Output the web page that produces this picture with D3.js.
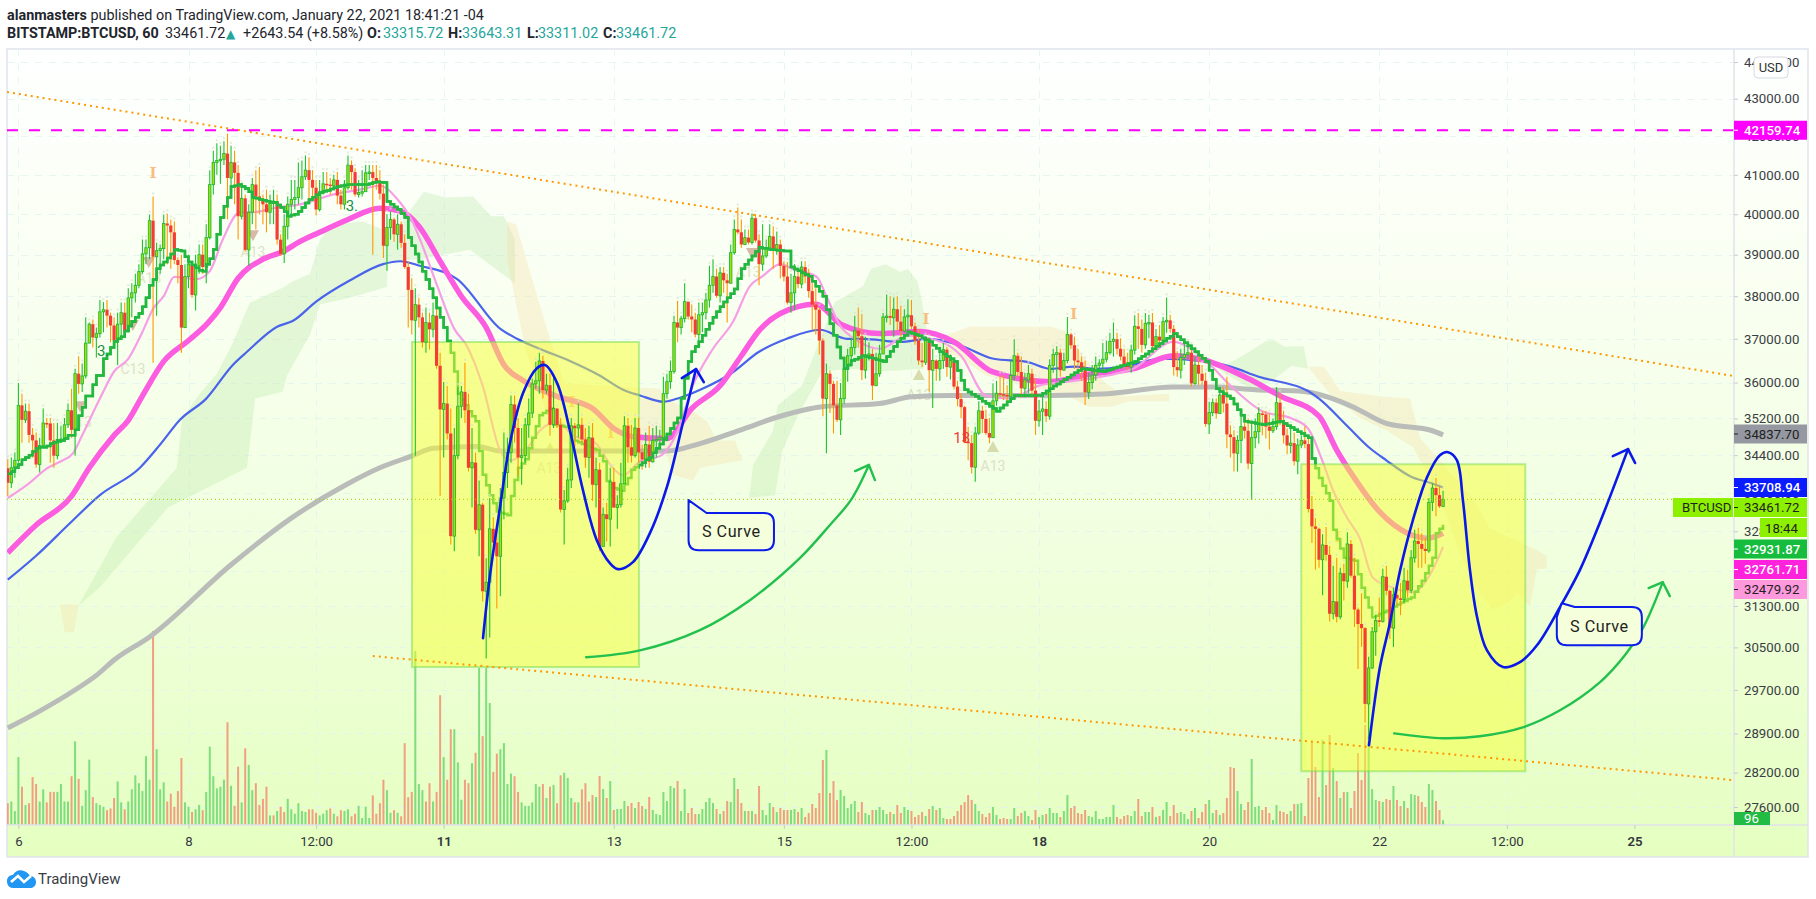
<!DOCTYPE html>
<html><head><meta charset="utf-8">
<script src="https://cdn.jsdelivr.net/npm/d3@7"></script>
<style>
html,body{margin:0;padding:0;background:#fff;width:1816px;height:899px;overflow:hidden}
svg{display:block;font-family:Roboto,sans-serif}
</style></head><body><svg id="c" width="1816" height="899"></svg>
<script>
// hour 0 = Jan 6 00:00, first bar is hour -3
const firstHour=-3, firstOpen=34120;
const closes=[
33810,34130,34290,35490,35170,35360,34840,34720,34200,34610,
35100,35090,34720,34390,34740,34750,35060,35380,34950,36200,
35970,36150,36900,37340,37030,37120,37630,37680,37540,37310,
36960,37340,37610,37170,37960,38080,38260,38590,39020,39170,
39840,38950,39100,39150,39770,39720,39550,38870,38750,37260,
38470,38770,38030,38730,39000,38700,39420,40750,41320,41370,
41400,41550,40920,41320,41050,39950,40400,39120,40050,40750,
40450,40370,40250,40050,40270,40320,39370,39020,39700,40250,
40370,40420,40670,40950,41120,40870,40670,40120,40550,40770,
40750,40720,40870,40470,40250,40670,41250,41070,40500,40550,
40570,41050,41070,40920,40820,40520,39220,39670,39870,39500,
39750,39290,38700,38150,37430,37800,37500,36920,37380,37220,
37540,36380,35400,35530,34870,32700,34390,35470,35790,35380,
34130,34240,32830,33350,31590,31770,32850,32570,32290,33490,
34030,34460,35510,34990,34350,34390,35060,35320,35970,36040,
36490,35830,35940,35060,35420,35060,33250,33430,33870,35040,
34990,35060,34740,34350,34780,33770,34090,32490,33150,33050,
33830,33290,33350,33790,35040,34570,34390,34990,34460,34310,
34630,34260,34720,34740,34780,35750,36020,36250,37380,37260,
37470,37870,37520,37450,37100,37560,37610,37910,38260,38470,
38010,38560,38380,38310,39050,39620,39550,39250,39420,39300,
39900,39350,38770,38970,39150,39450,39120,39250,38730,38470,
37850,38080,38470,38290,38700,38470,38120,37800,37680,36960,
35640,36200,35970,35490,35170,35640,36310,36610,36800,37190,
37060,36280,36610,36650,35930,36200,36650,37510,37530,37490,
37690,37400,37180,37510,37550,37290,36960,36500,36460,36960,
36280,36500,36310,36500,36750,36350,36500,35910,35630,35450,
34690,34660,34140,34880,35370,35190,34880,34780,35590,35760,
35740,35720,35690,36160,36610,36240,35870,36060,36200,35820,
35150,35360,35410,35250,36390,36640,36680,36280,36500,37100,
36850,36500,36460,36280,35780,36000,36170,36390,36440,36530,
36680,36940,36990,36770,36590,36390,36350,36740,37290,37230,
36860,37360,37380,36830,37050,36960,37400,37430,37230,36350,
36280,36570,36640,36680,35980,36400,36200,36040,35080,35330,
35550,35310,35720,35530,34850,34790,34440,34720,35020,34930,
34220,34780,34910,35310,35290,35020,34930,35020,35550,35130,
34830,34610,34660,34270,34620,34720,34640,33260,32900,32850,
32220,32520,32320,31150,31390,31090,31950,31790,32540,31900,
31230,30950,30870,29440,30110,30800,31020,31000,31880,31600,
30870,31520,31450,31430,31800,31610,32260,32600,32540,32440,
32400,33400,33700,33550,33315.72,33461.72];
const highs=[
34310,34350,34460,35990,35750,35530,35530,34990,34890,34780,
35420,35210,35210,35100,35100,35040,35210,35530,35860,36310,
36600,36430,37500,37380,37450,37260,37910,37860,37910,37610,
37500,37610,37850,37850,38190,38310,38540,38770,39370,39370,
39990,40450,39290,39250,39990,40020,39870,39820,38940,39000,
38770,39000,38770,39000,39250,39250,39750,41120,41620,41820,
41750,41870,42070,41750,41620,41250,40750,40500,40250,40920,
41120,41200,40500,40620,40500,40620,40500,39500,40000,40450,
40870,40870,41320,41370,41500,41450,41120,40870,40870,41070,
41070,40920,41000,41070,40620,40870,41500,41370,41170,40870,
41120,41250,41250,41250,41250,41120,40750,40000,40070,39920,
40000,39820,39500,38840,38430,38190,37960,37610,37730,37610,
37850,37730,36680,36010,35920,35420,34990,35900,35920,36450,
35750,34990,34460,33860,33390,32250,33490,33090,32890,33700,
34890,34780,35710,35710,35210,34990,35210,35640,36090,36470,
36680,36610,36200,36200,36200,35420,35210,33660,34130,35210,
35100,35530,35210,34990,35040,35100,34350,34240,33290,33390,
34130,34130,33550,34240,35250,35210,35060,35210,35210,34630,
34890,35040,34990,35040,34950,36130,36200,36500,37540,37890,
37540,38310,37850,37800,37610,37850,37850,38080,38730,38890,
38660,38700,38700,38540,39250,39870,40170,39870,39620,39620,
40020,40000,39500,39750,39370,39750,39700,39570,39370,38840,
38820,38540,38770,38660,38840,38840,38660,38310,38190,37730,
37010,36430,36270,36040,36040,35990,36540,36770,37010,37540,
37730,37580,37050,36920,36770,36680,36860,37600,38040,38000,
37970,38000,37780,37690,37930,37910,37380,37230,36900,37050,
37010,36770,36530,36770,36900,36810,36640,36400,36040,35760,
35480,35020,34840,35020,35580,35480,35390,35210,35980,36040,
36160,36160,35940,36500,36990,36680,36590,36220,36400,36310,
36090,35610,35670,35580,36530,36770,36830,36770,36680,37510,
37140,37050,36770,36590,36500,36220,36400,36590,36530,36900,
36960,37140,37380,37140,37010,36770,36680,36860,37550,37600,
37450,37600,37560,37600,37230,37320,37510,37970,37560,37320,
36710,36770,36900,36900,36830,36590,36590,36400,36220,35570,
35640,35640,35900,35900,36130,35050,34940,34830,35250,35200,
35200,35100,35200,35450,35370,35370,35310,35200,35900,35750,
35370,34980,35050,34890,34760,34830,35030,34760,33530,33070,
32870,32740,32890,32500,32100,32260,32060,32140,32780,32620,
32260,31270,31550,30890,30320,30890,31120,31470,32040,32100,
31620,31660,31660,31760,32060,32020,32420,32830,32870,32760,
32660,33490,33800,33910,33740,33643.31];
const lows=[
33530,33700,33920,34240,34670,35100,34670,34350,34130,34030,
34570,34990,34240,34130,34310,34670,34740,34990,34780,34390,
35750,35790,36090,36920,36800,36570,37030,37150,37260,36920,
36800,36400,37030,37150,37150,37500,37850,38190,38540,38770,
38890,36450,37540,38540,38890,38770,38660,38770,38310,36680,
37260,38190,37960,37660,38540,38540,38310,39370,40500,41000,
40770,41250,39870,40500,40250,39370,39870,39070,38730,39750,
39620,40000,39750,39550,39750,39750,39250,38970,38800,39370,
40000,40120,40250,40370,40870,40370,40370,39970,40070,40500,
40570,40500,40620,40250,40120,40120,40620,40620,40450,40420,
40450,40620,40870,39000,40620,40370,38920,38610,39370,39320,
39120,39170,38660,37260,37100,34390,37260,36800,36680,36750,
37030,36310,33530,34350,34740,32530,32390,34310,35210,35100,
34050,33290,32750,32290,31390,30290,30690,32490,31250,31490,
33050,33700,34240,34670,33960,33770,34240,34780,35210,35860,
35750,35640,35750,34820,34990,34990,33190,32530,33390,33700,
34570,34780,34670,34130,33920,33430,33290,32390,32490,32590,
32490,33290,32850,33290,33810,34240,34240,34350,34240,34090,
34130,34130,34240,34350,34570,34780,35640,35860,36200,36920,
37100,37380,37450,37150,37030,36800,37150,37450,37730,38080,
37960,37850,38080,37380,38310,39000,39500,39170,39250,39250,
39250,39300,38260,38610,38920,39120,38660,39000,38430,38350,
37800,37610,37680,38190,38190,38310,37960,37210,37100,36640,
35250,34440,35320,34870,35120,34840,35530,36020,36450,36640,
36800,36060,36090,36500,35610,36170,36130,36680,37380,37320,
37050,37200,37050,37140,37140,37230,36860,36400,36350,36400,
35800,35430,36040,36040,36310,36130,36070,35850,35470,35210,
34660,34290,34010,33830,34840,34880,34840,34660,34800,35480,
35670,35610,35480,35670,36040,36130,35670,35670,35760,35670,
34840,35020,34840,35120,35170,36220,36040,36130,36280,36440,
36770,36310,36220,36040,35500,35630,35850,36040,36220,36220,
36460,36640,36590,36640,36500,36310,36280,36220,36640,36770,
36680,36770,37010,36770,36810,36860,36960,37140,37140,36160,
36130,36090,36400,36530,35910,35950,35950,35950,35020,34860,
35250,35200,35310,35330,34550,34350,34050,34050,34230,34760,
34100,33450,34550,34650,34830,34760,34520,34880,34950,35050,
34650,34420,34440,34180,33990,34550,34550,33190,32560,32020,
32060,31510,32200,31000,31040,30980,31040,31410,31660,31860,
30890,30090,30510,29100,28800,30090,30340,30890,30980,31510,
30660,30510,31310,31120,31370,31470,31550,32160,32060,32060,
32140,32360,33220,33110,33280,33311.02];
// signed volume: positive = up bar, negative = down bar
const volumes=[
-436,470,279,1359,-766,401,-436,-958,-819,470,
714,-453,-662,-662,662,819,470,470,-976,1672,
-923,383,697,1307,-557,436,401,366,-296,-331,
-540,871,453,-314,470,714,993,836,679,1376,
906,-3880,1516,714,854,-470,-627,-366,-679,-1341,
453,366,-261,314,401,-296,662,1568,976,732,
766,906,-2056,784,-383,-1167,453,-1533,1202,697,
-836,-401,-523,-766,192,-192,279,-366,-261,523,
314,226,436,279,261,-314,-314,-244,192,226,
296,-331,226,-174,-296,279,314,-174,-226,383,
139,366,139,-592,-226,-436,-906,697,244,-296,
244,-174,-1637,-557,-662,3480,819,697,-470,-836,
470,-662,-2596,1359,-906,-1916,1916,1254,505,-906,
-836,1237,-1446,3140,-1777,3140,2440,-1063,-1428,1516,
1637,819,1028,-976,-662,453,383,383,453,819,
766,-819,540,-766,801,-436,-993,1045,941,540,
-453,453,-714,-836,-470,-600,560,-980,720,-540,
880,-300,320,320,480,-380,-440,340,-460,-380,
320,-560,300,220,200,660,480,780,740,-880,
280,720,-240,-340,-220,220,320,460,540,440,
-320,220,-280,-480,460,940,-720,-440,280,-280,
280,-220,-780,300,200,440,-360,260,-340,-300,
-300,300,320,-260,340,-160,-240,-420,-340,-640,
-1300,1500,-640,-880,-500,700,580,340,420,480,
-260,-460,240,200,-300,300,360,300,220,-260,
220,-400,-240,360,300,-280,-160,-200,-260,180,
-320,380,-300,340,140,-120,-120,-180,-280,-400,
-460,-600,-500,420,280,-220,-160,-240,360,200,
-120,-140,-120,120,340,-180,-240,280,180,-100,
-300,160,200,-220,340,240,240,-160,280,600,
-340,-380,-240,-220,-300,180,160,280,120,120,
160,160,400,-160,-120,-180,-200,180,280,-520,
-180,260,260,-360,160,-180,300,460,-180,-400,
-240,260,220,120,-280,340,-140,-260,-420,500,
240,-300,200,-240,-540,-1160,-1140,680,420,-300,
-460,1320,360,380,-300,-360,-240,100,400,-280,
-260,-220,280,-420,420,440,-180,-940,-1660,-1160,
-560,1700,-800,-1800,1140,-880,540,-660,660,-340,
-680,-1440,-900,-2000,1780,720,500,-480,460,-520,
-500,780,-500,-380,480,-340,620,600,-580,-460,
-360,820,700,-480,-300,96];
// stepped fast average, one value per bar
const stepValues=[
34000,34050,34130,34200,34300,34350,34400,34480,34550,34570,
34570,34600,34650,34680,34700,34720,34760,34830,34830,34950,
35260,35450,35700,35700,35950,36160,36160,36540,36650,36800,
36940,37000,37050,37180,37300,37400,37500,37590,37750,37960,
38260,38400,38660,38750,38820,38920,39020,39130,39110,39090,
38950,38820,38750,38680,38620,38600,38770,38900,39130,39500,
39920,40200,40420,40700,40720,40750,40700,40650,40570,40420,
40400,40370,40350,40330,40310,40300,40230,40170,40060,39950,
39980,40000,40070,40170,40280,40370,40430,40490,40550,40580,
40600,40640,40670,40700,40720,40740,40750,40750,40750,40750,
40750,40750,40770,40800,40820,40810,40800,40320,40250,40180,
40120,40020,39920,39420,39220,39020,38820,38600,38400,38180,
37960,37720,37500,37260,36950,36680,36250,35750,35620,35490,
35360,35250,35140,34490,33980,33760,33550,33380,33210,33180,
33160,33130,33530,33870,34130,34220,34310,34550,34780,35030,
35270,35320,35370,35420,35060,35050,35040,35020,35010,34990,
34710,34680,34640,34610,34580,34540,34510,34390,34270,33850,
33780,33700,33670,33640,33780,33910,34090,34140,34190,34240,
34300,34350,34450,34550,34640,34740,34860,34980,35100,35210,
35650,36100,36480,36700,36820,36930,37080,37220,37360,37500,
37630,37750,37860,37960,38060,38170,38420,38660,38770,38870,
38970,39080,39180,39160,39150,39130,39120,39110,39100,39090,
39090,38700,38650,38610,38560,38520,38480,38360,38240,38120,
38000,37680,37350,37080,36810,36560,36310,36400,36500,36530,
36570,36610,36590,36570,36550,36520,36500,36480,36590,36710,
36820,36930,37010,37080,37160,37130,37100,37070,37020,36980,
36930,36850,36780,36700,36650,36590,36540,36480,36270,36050,
35840,35790,35740,35690,35640,35580,35530,35470,35420,35360,
35430,35500,35570,35640,35710,35710,35710,35710,35710,35710,
35710,35710,35760,35810,35860,35920,35970,36020,36070,36120,
36170,36220,36270,36310,36300,36290,36280,36270,36260,36250,
36280,36300,36330,36350,36380,36400,36430,36450,36480,36540,
36600,36650,36710,36770,36830,36890,36950,37010,37060,37120,
37050,36980,36910,36840,36770,36700,36620,36550,36480,36280,
36070,35860,35800,35750,35700,35640,35520,35390,35270,35140,
35120,35110,35090,35080,35060,35080,35090,35110,35120,35140,
35090,35040,35000,34950,34910,34870,34820,34780,34330,34120,
33910,33750,33590,33430,32830,32640,32450,32260,32240,32220,
32200,31930,31660,31470,31270,31080,31110,31150,31180,31210,
31250,31290,31330,31370,31400,31440,31470,31580,31690,31800,
31950,32100,32260,32760,32850,32931.87];

// moving averages as [hour, price]
const emaFast=[[-3,33490],[3,33800],[8.3,34130],[12,34270],[15.4,34440],[18,34830],[23,35640],[27,36250],[31,36540],[35,37160],[38,37700],[41,38000],[44,38460],[50.4,38410],[54,38600],[57.7,39380],[62.5,40050],[66,40050],[73,40170],[79.5,40250],[89,40500],[96.4,40620],[102,40720],[107,40370],[111.3,39800],[113.3,39380],[118,38290],[123,37230],[126.5,36840],[131,35930],[136,34490],[139,34290],[143,34490],[147,34920],[152,35130],[156.5,34830],[162.7,34670],[167.8,34120],[170.6,33970],[175.4,34270],[181,34380],[186,34920],[190.3,35930],[196,36770],[201.6,37390],[206.4,38240],[210,38480],[215,38770],[218.6,38650],[225.3,38460],[228,38000],[231.9,37300],[236,37000],[243,36770],[251,37070],[260.3,36930],[266,36610],[273,35710],[279.8,35640],[288,35930],[296,36020],[307.4,36160],[314.5,36310],[325.8,36930],[335,36500],[342,35930],[351,35360],[359.3,35200],[363.9,34980],[368,34270],[370.7,33700],[375,33070],[378.5,32660],[382.2,31860],[387.9,31660],[393.5,31570],[398.3,31920],[402,32479.92]];
const emaMid=[[-3,32360],[5,32930],[15,33530],[20,34130],[27,34830],[31,35160],[35,35700],[41,36480],[48,36960],[53.5,37370],[57,37730],[62,38430],[69,38890],[75,39090],[79,39300],[85,39550],[93,39870],[102,40150],[108,40070],[113,39700],[119,38840],[125,38000],[132,37260],[137,36400],[142.5,36040],[152,35690],[162,35420],[168,34980],[173.5,34800],[183,34760],[190,35420],[198,35930],[204,36610],[209,37190],[215,37590],[225,37810],[232.5,37320],[243,37120],[254.5,37170],[264,36930],[275,36240],[291,36020],[303,36200],[314.5,36310],[326,36610],[335,36500],[347,36090],[356,35700],[367,35250],[372,34510],[377,33910],[384,33210],[392,32760],[397.5,32660],[402,32761.71]];
const emaSlow=[[-3,31820],[5,32300],[14.6,32970],[23,33550],[34.3,34130],[40,34630],[45.6,35170],[53,35640],[60.5,36400],[64.5,36700],[73,37280],[77.5,37420],[84,37870],[93.6,38380],[102.9,38770],[107.7,38840],[113.3,38730],[123.8,38410],[136,37230],[140.7,37000],[147,36770],[155.6,36490],[164,36160],[170.6,35840],[175.4,35710],[182,35570],[186.7,35660],[193,35860],[201,36200],[209,36700],[216.8,37000],[226.2,37210],[233.8,37000],[238.3,37000],[248.7,36930],[257,37000],[266,36840],[275.2,36540],[284.6,36470],[291.4,36310],[298,36360],[304,36310],[312,36360],[322.4,36540],[336,36470],[342,36360],[350,36130],[363.9,35810],[367,35640],[374.9,35040],[381.4,34550],[386,34290],[392.7,33950],[399.2,33790],[402,33708.94]];
const emaLong=[[-3,29000],[5.5,29290],[16.5,29720],[22,29970],[27,30260],[37,30700],[60,32120],[76.6,33050],[92.7,33780],[102,34130],[111.3,34390],[117,34550],[129.4,34590],[136,34490],[169.7,34490],[183,34490],[192.3,34650],[203.9,34950],[215.4,35260],[226.7,35460],[243,35530],[252,35680],[263.7,35710],[291.4,35710],[307.4,35750],[325.8,35900],[337.4,35900],[349,35840],[362.7,35800],[372.9,35580],[376.5,35460],[386,35090],[399,34930],[402,34837.7]];

// cloud polygons [hour, price]
const cloudsGreen=[
[[17,31310],[27.5,32660],[44.7,34130],[46.2,35200],[51.2,35750],[56,36200],[60.5,36900],[65.3,37850],[67.3,37920],[74.6,38200],[77.5,38360],[82.3,38540],[85.1,39370],[88.8,39750],[97.2,39820],[102.9,39620],[107.7,39750],[114.4,40570],[120.6,40420],[128.3,40450],[133.4,39950],[137,39950],[140.1,39370],[140.1,38310],[127.4,39120],[113.3,38890],[104.3,38840],[104,38220],[93.6,37960],[85.1,37800],[82.3,37100],[75.8,36160],[74.6,35800],[66.8,35640],[64.5,34130],[42.2,33290],[23,31670]],
[[206.2,33490],[207.3,34190],[212.9,34920],[214.3,35490],[221.1,35930],[225.6,36860],[230.4,37860],[238.3,38240],[240.6,38660],[244.8,38770],[248.8,38580],[251,38660],[253.8,38340],[255,37860],[256.4,37160],[255.5,36310],[243.1,36250],[234.9,36310],[226.8,36250],[220,35270],[215.5,34490],[213.5,33550]],
[[338.5,36310],[345.5,36610],[352.3,36960],[354.5,36960],[357.1,36820],[362.7,36820],[363.9,36310],[359.3,36380],[353.4,36020],[347.8,35860]]];
const cloudsTan=[
[[11.7,31330],[17,31330],[15.7,30790],[13.1,30790]],
[[137.9,39820],[140.4,39750],[145.8,38170],[150,37000],[154.2,35980],[181,35860],[184.7,35570],[190.3,35360],[194.3,35140],[197.1,34720],[202.2,34720],[204.4,34290],[192.3,34130],[190.3,33860],[184.7,33980],[181.9,34630],[171.7,34410],[161.2,34570],[154.2,34670],[148.6,35420],[143,36770],[137.9,38890]],
[[259.2,37000],[268.2,37280],[291.4,37280],[295.9,37170],[299.5,36700],[306.3,36020],[312,35690],[324.7,35750],[324.7,35580],[313.4,35580],[308.6,35460],[301.8,35460],[295.9,35710],[284.6,35930],[273,36160],[267.1,36480],[259.2,36840]],
[[363.9,36360],[368.4,36360],[373,35810],[385.3,35680],[392.7,35640],[395.5,34780],[410.4,33490],[415.2,32850],[420.3,32690],[428.5,32420],[431.3,32290],[431.3,32050],[428.5,32030],[426.5,31290],[422.9,31550],[420,31350],[416,31230],[412.4,31550],[407.6,32190],[401.1,33490],[393.5,34570],[386.2,34930],[378.5,35210],[370,35750]]];

// drawings
const zones=[[111.06,175.1,36925,30127],[362,425.2,34205,28225]]; // hourA,hourB,priceTop,priceBottom
const trendTop=[[-3.2,43180],[484.1,36147]];
const trendBottom=[[100,30335],[484.1,28068]];
const resistance=42159.74, lastPrice=33461.72;
const sCurveA=[[131.1,30677],[133,31870],[135.9,33300],[138.7,34659],[142.4,35765],[146.3,36326],[148.6,36396],[152,35988],[155.6,34945],[159.3,33656],[163.2,32617],[166.9,32152],[169.2,32031],[173.4,32172],[178.2,32762],[183,33722],[187.5,35100],[191.2,36306]];
const sHeadA=[[187.2,36100],[191.2,36306],[193.4,36010]];
const sCurveB=[[381.1,28688],[384.2,30127],[387,30967],[389.9,32012],[393.5,33030],[397.5,33930],[401.1,34398],[403.4,34465],[405.9,34294],[407.6,33446],[409.6,32012],[411.6,31086],[414.4,30443],[418.9,30127],[423.7,30219],[428.5,30540],[435,31280],[440.6,32012],[446.3,32987],[454.2,34531]];
const sHeadB=[[449.9,34380],[454.2,34531],[456.2,34232]];
const arcA=[[160.2,30312],[175.4,30443],[192.3,30831],[206.4,31415],[220.5,32253],[229,32930],[234.9,33446],[240,34190]];
const arcHeadA=[[236.1,34060],[240,34190],[241.7,33867]];
const arcB=[[388.2,28902],[402,28815],[412.4,28851],[424.5,29012],[435,29323],[446.3,29845],[453.3,30352],[458.4,30870],[464,31771]];
const arcHeadB=[[460,31654],[464,31771],[466,31495]];
const calloutBoxes=[[189.1,213.2,33178,32413,189.1,33446],[434.1,458.1,31280,30540,435.5,31356]]; // hA,hB,pTop,pBottom,tipH,tipP
const calloutText="S Curve";

// pattern labels
const triDown=[[17.4,35472],[36.8,38820],[66.2,39479],[32.3,37321],[207,39040]];
const triUp=[[150,34552],[254.1,36168],[275,34574]];
const fadedLabels=[["C13",32.3,36306],["13",18.5,35121],["A13",36.8,38435],["A13",66.2,39062],["A13",149.7,34123],["A13",205.9,38580],["A13",254.1,35719],["A13",275,34167]];
const greenLabels=[["3.",23.9,36740],["3.",94.1,40234]];
const redLabels=[["13",266.2,34793]];
const iLabels=[[38,41069],[156.2,35583],[167.2,34901],[256.1,37463],[297.8,37598],[372.3,32702]];

// axes
const priceTicks=[44000,43000,42000,41000,40000,39000,38000,37000,36000,35200,34400,33600,32800,32000,31300,30500,29700,28900,28200,27600];
const timeTicks=[0,48,84,120,168,216,252,288,336,384,420,456];
const timeLabels=["6","8","12:00","11","13","15","12:00","18","20","22","12:00","25"];
const boldTimeLabels=["11","18","25"];
const priceTags=[
 {v:42159.74,t:"42159.74",bg:"#ff00ff",fg:"#fff"},
 {v:34837.70,t:"34837.70",bg:"#9598a1",fg:"#222",at:434},
 {v:33708.94,t:"33708.94",bg:"#0a1bff",fg:"#fff",at:487.5},
 {v:33461.72,t:"33461.72",bg:"#8df000",fg:"#222",at:507.5},
 {v:32931.87,t:"32931.87",bg:"#16bc3d",fg:"#fff",at:549},
 {v:32761.71,t:"32761.71",bg:"#ff22dd",fg:"#fff",at:569.5},
 {v:32479.92,t:"32479.92",bg:"#ff99dd",fg:"#222",at:589.5}];

const PL=7,PR=1734,PT=49,PB=825,OR=1808,OB=857;
const x=d3.scaleLinear().domain([-3.217,484.1]).range([PL,PR]);
const y=d3.scaleLog().domain([44000,27600]).range([62,807]);
const vy=d3.scaleLinear().domain([0,4000]).range([PB,PB-200]);

const svg=d3.select("#c");
const defs=svg.append("defs");
const grad=defs.append("linearGradient").attr("id","bg").attr("x1",0).attr("x2",0).attr("y1",0).attr("y2",1);
[[0,"#feffff"],[.3,"#f9fff1"],[.6,"#f1ffe0"],[1,"#e5ffc0"]].forEach(s=>grad.append("stop").attr("offset",s[0]).attr("stop-color",s[1]));
defs.append("clipPath").attr("id","pane").append("rect").attr("x",PL).attr("y",PT).attr("width",PR-PL).attr("height",PB-PT);
const zoneRect=z=>{const a=x(z[0]),b=x(z[1]),t=y(z[2]),u=y(z[3]);return `M${a},${t}H${b}V${u}H${a}Z`;};
defs.append("clipPath").attr("id","outsideZones").append("path")
  .attr("clip-rule","evenodd")
  .attr("d",`M${PL},${PT}H${PR}V${PB}H${PL}Z`+zones.map(zoneRect).join(""));

// background
svg.append("rect").attr("x",PL).attr("y",PT).attr("width",OR-PL).attr("height",OB-PT).attr("fill","url(#bg)").attr("stroke","#e0e3eb").attr("stroke-width",1.5);

// grid
const grid=svg.append("g").attr("stroke","#dff3f2").attr("stroke-width",1).attr("stroke-dasharray","7 7").attr("opacity",.75);
grid.selectAll("line.h").data(priceTicks).join("line").attr("x1",PL).attr("x2",PR).attr("y1",d=>Math.round(y(d))+.5).attr("y2",d=>Math.round(y(d))+.5);
grid.selectAll("line.v").data(timeTicks).join("line").attr("x1",d=>Math.round(x(d))+.5).attr("x2",d=>Math.round(x(d))+.5).attr("y1",PT).attr("y2",PB);

const pane=svg.append("g").attr("clip-path","url(#pane)");

// bars table
const bars=closes.map((c,i)=>({h:firstHour+i,o:i?closes[i-1]:firstOpen,c,hi:highs[i],lo:lows[i],v:volumes[i]}));

// volume
pane.append("g").selectAll("rect").data(bars).join("rect")
 .attr("x",d=>x(d.h)-1).attr("width",2)
 .attr("y",d=>vy(Math.abs(d.v))).attr("height",d=>PB-vy(Math.abs(d.v)))
 .attr("fill",d=>d.v>=0?"#7edd7c":"#f0a080");

// clouds
const poly=d3.line().x(d=>x(d[0])).y(d=>y(d[1]));
pane.append("g").selectAll("path").data(cloudsGreen).join("path").attr("d",d=>poly(d)+"Z").attr("fill","#b9e6a6").attr("opacity",.33);
pane.append("g").selectAll("path").data(cloudsTan).join("path").attr("d",d=>poly(d)+"Z").attr("fill","#f5dba0").attr("opacity",.3);

// faded pattern marks
const tri=(cx,cy,dir)=>`M${cx-6},${cy-dir*5}L${cx+6},${cy-dir*5}L${cx},${cy+dir*6}Z`;
pane.append("g").selectAll("path").data(triDown).join("path").attr("d",d=>tri(x(d[0]),y(d[1]),1)).attr("fill","#d8b9a8");
pane.append("g").selectAll("path").data(triUp).join("path").attr("d",d=>tri(x(d[0]),y(d[1]),-1)).attr("fill","#d6dcae");
pane.append("g").selectAll("text").data(fadedLabels).join("text").text(d=>d[0]).attr("x",d=>x(d[1])).attr("y",d=>y(d[2])+5)
 .attr("text-anchor","middle").attr("font-size",14).attr("fill","#d9dcc0").attr("opacity",.85);
pane.append("g").selectAll("text").data(iLabels).join("text").text("I").attr("x",d=>x(d[0])).attr("y",d=>y(d[1])+5.5)
 .attr("text-anchor","middle").attr("font-size",15).attr("font-weight",700).attr("font-family","'DejaVu Serif',serif").attr("fill","#f9bd80");

// moving averages
const smooth=d3.line().x(d=>x(d[0])).y(d=>y(d[1])).curve(d3.curveMonotoneX);
const emaLayer=pane.append("g").attr("fill","none").attr("stroke-linejoin","round");
emaLayer.append("path").attr("d",smooth(emaLong)).attr("stroke","#b9bcb8").attr("stroke-width",5);
emaLayer.append("path").attr("d",smooth(emaSlow)).attr("stroke","#4a63ea").attr("stroke-width",2.2);
emaLayer.append("path").attr("d",smooth(emaMid)).attr("stroke","#fb5ce0").attr("stroke-width",5.5);
emaLayer.append("path").attr("d",smooth(emaFast)).attr("stroke","#f79fe6").attr("stroke-width",2.2);

// step line
const stepPath=d3.line().x((d,i)=>x(firstHour+i)).y(d=>y(d)).curve(d3.curveStepAfter)(stepValues);
pane.append("path").attr("d",stepPath).attr("fill","none").attr("stroke","#22b83f").attr("stroke-width",2.5);

// zones
pane.append("g").selectAll("path").data(zones).join("path").attr("d",zoneRect)
 .attr("fill","rgba(245,255,50,.5)").attr("stroke","rgba(120,220,80,.5)").attr("stroke-width",2);

// candles
const cg=pane.append("g");
cg.selectAll("rect.dot").data(bars).join("rect").attr("x",d=>x(d.h)-1).attr("width",2).attr("y",d=>y(d.hi)-4).attr("height",2).attr("fill","#d9e2cf").attr("opacity",.7);
cg.selectAll("line").data(bars).join("line")
 .attr("x1",d=>x(d.h)).attr("x2",d=>x(d.h)).attr("y1",d=>y(d.hi)).attr("y2",d=>y(d.lo))
 .attr("stroke",d=>d.c>=d.o?"#1fc02f":"#ff9800").attr("stroke-width",1.1);
cg.selectAll("rect.b").data(bars).join("rect")
 .attr("x",d=>d.c>=d.o?x(d.h)-1.2:x(d.h)-1.6).attr("width",d=>d.c>=d.o?2.4:3.2)
 .attr("y",d=>y(Math.max(d.o,d.c))).attr("height",d=>Math.max(1.5,Math.abs(y(d.o)-y(d.c))))
 .attr("fill",d=>d.c>=d.o?"#a3e000":"#f53c30")
 .attr("stroke",d=>d.c>=d.o?"#22b83a":"none").attr("stroke-width",.9);

// step line over candles outside zones
pane.append("g").attr("clip-path","url(#outsideZones)").append("path").attr("d",stepPath).attr("fill","none").attr("stroke","#22b83f").attr("stroke-width",2.5);
pane.append("g").selectAll("text").data(greenLabels).join("text").text(d=>d[0]).attr("x",d=>x(d[1])).attr("y",d=>y(d[2])+6)
 .attr("text-anchor","middle").attr("font-size",15).attr("fill","#1a8f4a");
pane.append("g").selectAll("text").data(redLabels).join("text").text(d=>d[0]).attr("x",d=>x(d[1])).attr("y",d=>y(d[2])+6)
 .attr("text-anchor","middle").attr("font-size",15).attr("fill","#f23a3a");

// last price line
pane.append("line").attr("x1",PL).attr("x2",1673).attr("y1",y(lastPrice)).attr("y2",y(lastPrice)).attr("stroke","#9ad400").attr("stroke-width",1).attr("stroke-dasharray","1 3");

// trend lines
const straight=d3.line().x(d=>x(d[0])).y(d=>y(d[1]));
[trendTop,trendBottom].forEach(t=>pane.append("path").attr("d",straight(t)).attr("fill","none").attr("stroke","#ff9800").attr("stroke-width",2).attr("stroke-dasharray","2 4"));
pane.append("line").attr("x1",PL).attr("x2",PR).attr("y1",y(resistance)).attr("y2",y(resistance)).attr("stroke","#ff00ff").attr("stroke-width",2).attr("stroke-dasharray","11 11");

// callouts, curves, arrows
const curve=d3.line().x(d=>x(d[0])).y(d=>y(d[1])).curve(d3.curveCatmullRom.alpha(.5));
const draw=pane.append("g").attr("fill","none").attr("stroke-linecap","round").attr("stroke-linejoin","round");
[[sCurveA,sHeadA],[sCurveB,sHeadB]].forEach(p=>{
  draw.append("path").attr("d",curve(p[0])).attr("stroke","#0a18e8").attr("stroke-width",2.6);
  draw.append("path").attr("d",straight(p[1])).attr("stroke","#0a18e8").attr("stroke-width",2.6);
});
[[arcA,arcHeadA],[arcB,arcHeadB]].forEach(p=>{
  draw.append("path").attr("d",curve(p[0])).attr("stroke","#22c04d").attr("stroke-width",2.4);
  draw.append("path").attr("d",straight(p[1])).attr("stroke","#22c04d").attr("stroke-width",2.4);
});
calloutBoxes.forEach(b=>{
  const L=x(b[0]),R=x(b[1]),T=y(b[2]),B=y(b[3]),tx=x(b[4]),ty=y(b[5]),r=10;
  const d=`M${tx},${ty}L${L+r+8},${T}H${R-r}Q${R},${T} ${R},${T+r}V${B-r}Q${R},${B} ${R-r},${B}H${L+r}Q${L},${B} ${L},${B-r}V${T+r}Z`;
  draw.append("path").attr("d",d).attr("fill","#f6ffdb").attr("stroke","#0a1bea").attr("stroke-width",2);
  pane.append("text").text(calloutText).attr("x",(L+R)/2).attr("y",(T+B)/2+5.5).attr("text-anchor","middle").attr("font-size",16.2).attr("letter-spacing",.5).attr("fill","#222");
});

// axes
const axisR=d3.axisRight(y).tickValues(priceTicks).tickFormat(d3.format(".2f")).tickSize(4).tickPadding(6);
const gR=svg.append("g").attr("transform",`translate(${PR},0)`).call(axisR);
gR.select(".domain").attr("stroke","#e0e3eb").attr("stroke-width",1.5).attr("d",`M0,${PT}V${PB}`);
gR.selectAll(".tick line").attr("stroke","#c8cad3");
gR.selectAll("text").attr("font-size",13.2).attr("font-family","Roboto,sans-serif").attr("fill","#3a3d45");
svg.append("line").attr("x1",PR).attr("x2",PR).attr("y1",PB).attr("y2",OB).attr("stroke","#e0e3eb").attr("stroke-width",1.5);

const axisB=d3.axisBottom(x).tickValues(timeTicks).tickFormat((d,i)=>timeLabels[i]).tickSize(4).tickPadding(8);
const gB=svg.append("g").attr("transform",`translate(0,${PB})`).call(axisB);
gB.select(".domain").attr("stroke","#dfe2ea").attr("stroke-width",1.5).attr("d",`M${PL},0H${OR}`);
gB.selectAll(".tick line").attr("stroke","#c8cad3");
gB.selectAll("text").attr("font-size",13.2).attr("font-family","Roboto,sans-serif").attr("fill","#33363e")
 .attr("font-weight",(d,i)=>boldTimeLabels.includes(timeLabels[i])?600:400);

// price tags
const tagG=svg.append("g");
priceTags.forEach(t=>{
  const cy=t.at===undefined?y(t.v):t.at;
  tagG.append("rect").attr("x",PR).attr("y",cy-9.5).attr("width",OR-PR-1).attr("height",19).attr("fill",t.bg);
  tagG.append("line").attr("x1",PR).attr("x2",PR+4).attr("y1",cy).attr("y2",cy).attr("stroke",t.fg);
  tagG.append("text").text(t.t).attr("x",PR+10).attr("y",cy+4.8).attr("font-size",13.2).attr("font-weight",t.fg==="#fff"?500:400).attr("fill",t.fg);
});
tagG.append("rect").attr("x",1673).attr("y",498).attr("width",60).attr("height",19).attr("fill","#8df000");
tagG.append("text").text("BTCUSD").attr("x",1682).attr("y",512.3).attr("font-size",13.2).attr("fill","#222");
tagG.append("rect").attr("x",1760).attr("y",518).attr("width",47).attr("height",19).attr("fill","#8df000");
tagG.append("text").text("18:44").attr("x",1765).attr("y",532.5).attr("font-size",13.2).attr("fill","#222");
tagG.append("rect").attr("x",PR).attr("y",812).attr("width",36).attr("height",13).attr("fill","#22bb44");
tagG.append("text").text("96").attr("x",PR+10).attr("y",823).attr("font-size",13.2).attr("fill","#fff");
tagG.append("rect").attr("x",1754).attr("y",57).attr("width",34).attr("height",21).attr("rx",4).attr("fill","#fff").attr("stroke","#d6d8e0");
tagG.append("text").text("USD").attr("x",1771).attr("y",72).attr("text-anchor","middle").attr("font-size",13).attr("fill","#333");

// header
const head=svg.append("g").attr("font-size",14.35).attr("fill","#22252c");
const l1=head.append("text").attr("x",7).attr("y",19.5);
l1.append("tspan").text("alanmasters").attr("font-weight",700);
l1.append("tspan").text(" published on TradingView.com, January 22, 2021 18:41:21 -04");
const teal="#26a69a";
const seg=(t,xp,o={})=>{const e=head.append("text").text(t).attr("x",xp).attr("y",38);if(o.b)e.attr("font-weight",700);if(o.c)e.attr("fill",o.c);return e;};
seg("BITSTAMP:BTCUSD, 60",7,{b:1});
seg("33461.72",165);
seg("▲",226,{c:teal}).attr("font-size",12).attr("font-family","'DejaVu Sans'");
seg("+2643.54 (+8.58%)",243);
seg("O:",367,{b:1}); seg("33315.72",383,{c:teal});
seg("H:",448,{b:1}); seg("33643.31",462,{c:teal});
seg("L:",527,{b:1}); seg("33311.02",538,{c:teal});
seg("C:",603,{b:1}); seg("33461.72",616,{c:teal});

// footer logo
const logo=svg.append("g").attr("transform","translate(7,870)");
logo.append("path").attr("d","M0,11 C0,7 3,5 6,5 C8,1 13,-1 17,1 C20,2 22,4 23,6 C27,6 29,9 29,12 C29,16 26,18 23,18 L6,18 C2,18 0,15 0,11Z").attr("fill","#2196f3");
logo.append("path").attr("d","M4,12 L11,6 L17,12 L24,6").attr("fill","none").attr("stroke","#fff").attr("stroke-width",2.6);
svg.append("text").text("TradingView").attr("x",38).attr("y",883.5).attr("font-size",15).attr("fill","#3a3d45");
</script></body></html>
